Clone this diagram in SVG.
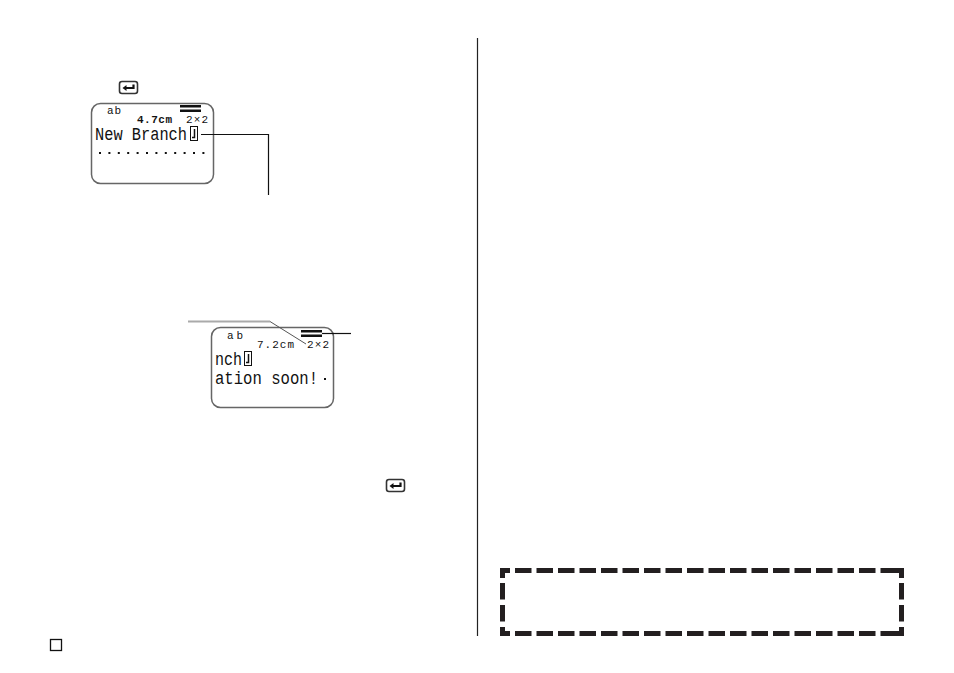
<svg xmlns="http://www.w3.org/2000/svg" width="954" height="673" viewBox="0 0 954 673">
<style>
.lcd{font-family:"Liberation Mono","DejaVu Sans Mono",monospace;fill:#111}
.scr{fill:#fff;stroke:#666;stroke-width:1.5}
.ln{fill:none;stroke:#111;stroke-width:1.2}
.key{fill:#fff;stroke:#333;stroke-width:1.6}
.dash{fill:none;stroke:#231f20;stroke-width:5}
</style>
<defs>
<g id="enter"><rect x="0" y="0" width="18" height="12" rx="2.5" class="key"/><path d="M14 3V6.500H6" fill="none" stroke="#111" stroke-width="2.200"/><path d="M3 6.500L7 3.500V9.500Z" fill="#111"/></g>
</defs>
<rect width="954" height="673" fill="#fff"/>
<g id="divider"><line x1="477.500" y1="38" x2="477.500" y2="636" stroke="#222" stroke-width="1.200"/></g>
<g id="page-box"><rect x="50.500" y="639.500" width="11" height="11" fill="none" stroke="#111" stroke-width="1.300"/></g>
<g id="key-top"><use href="#enter" x="119.500" y="81.500"/></g>
<g id="key-bottom"><use href="#enter" x="386.500" y="479.500"/></g>
<g id="screen-1">
<rect x="91.500" y="103.500" width="122" height="80" rx="9" class="scr"/>
<text x="107" y="114" class="lcd" font-size="11" textLength="14">ab</text>
<rect x="180" y="105" width="21" height="2.500" fill="#111"/><rect x="180" y="109.500" width="21" height="2.500" fill="#111"/>
<text x="137" y="123" class="lcd" font-size="11" font-weight="bold" textLength="35">4.7cm</text>
<text x="186" y="123" class="lcd" font-size="11" textLength="22">2×2</text>
<text x="95" y="140" class="lcd" font-size="18" textLength="92" lengthAdjust="spacingAndGlyphs">New Branch</text>
<rect x="190.500" y="126.500" width="7" height="14" fill="none" stroke="#111" stroke-width="1"/>
<path d="M194.500 129V137.500H192" fill="none" stroke="#111" stroke-width="1.500"/>
<path d="M99 153H207" fill="none" stroke="#111" stroke-width="2" stroke-dasharray="2 7.400"/>
</g>
<g id="screen-2">
<rect x="211.500" y="327.500" width="122" height="80" rx="9" class="scr"/>
<text x="227" y="339" class="lcd" font-size="11" textLength="16">ab</text>
<rect x="301" y="330" width="21" height="2.500" fill="#111"/><rect x="301" y="334.500" width="21" height="2.500" fill="#111"/>
<text x="257" y="348" class="lcd" font-size="11" textLength="37">7.2cm</text>
<text x="307" y="348" class="lcd" font-size="11" textLength="22">2×2</text>
<text x="215" y="365" class="lcd" font-size="18" textLength="27" lengthAdjust="spacingAndGlyphs">nch</text>
<rect x="244.500" y="351.500" width="7" height="14" fill="none" stroke="#111" stroke-width="1"/>
<path d="M248.500 354V362.500H246" fill="none" stroke="#111" stroke-width="1.500"/>
<text x="215" y="384" class="lcd" font-size="18" textLength="103" lengthAdjust="spacingAndGlyphs">ation soon!</text>
<rect x="324" y="378" width="2" height="2" fill="#111"/>
</g>
<g id="connectors">
<path class="ln" d="M201 134.500H268.500V195"/>
<path d="M188 321.500H270" fill="none" stroke="#aaa" stroke-width="2"/>
<path d="M270 321.500L306 344" fill="none" stroke="#555" stroke-width="1"/>
<path class="ln" d="M322 333.500H351"/>
</g>
<g id="dashed-box">
<path class="dash" d="M510 570.500H502.500V578"/>
<path class="dash" d="M515 570.500H894" stroke-dasharray="16.500 5"/>
<path class="dash" d="M894 570.500H901.500V578"/>
<path class="dash" d="M502.500 583V622" stroke-dasharray="16.500 5.500"/>
<path class="dash" d="M901.500 583V622" stroke-dasharray="16.500 5.500"/>
<path class="dash" d="M510 633.500H502.500V627"/>
<path class="dash" d="M515 633.500H894" stroke-dasharray="16.500 5"/>
<path class="dash" d="M894 633.500H901.500V627"/>
</g>
</svg>
